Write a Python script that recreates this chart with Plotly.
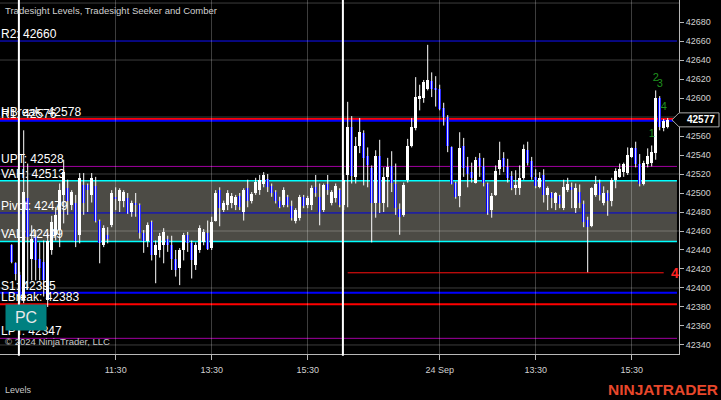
import plotly.graph_objects as go

# ---------------- data ----------------
bar_index = list(range(-2, 163))
opens = [42445, 42426, 42414, 42387, 42495, 42430, 42454, 42431, 42427, 42387,
         42440, 42456, 42461, 42498, 42505, 42487, 42490, 42456, 42508, 42508,
         42498, 42507, 42471, 42445, 42456, 42466, 42496, 42492, 42492, 42495,
         42480, 42490, 42487, 42458, 42450, 42469, 42435, 42440, 42445, 42452,
         42445, 42431, 42421, 42440, 42456, 42447, 42424, 42440, 42448, 42458,
         42442, 42471, 42503, 42482, 42487, 42489, 42487, 42497, 42480, 42505,
         42492, 42500, 42503, 42510, 42515, 42507, 42501, 42492, 42487, 42496,
         42486, 42471, 42474, 42496, 42487, 42487, 42506, 42496, 42482, 42510,
         42489, 42495, 42503, 42487, 42519, 42570, 42517, 42550, 42563, 42539,
         42526, 42489, 42539, 42490, 42517, 42528, 42510, 42483, 42477, 42514,
         42549, 42568, 42599, 42600, 42610, 42618, 42611, 42609, 42589, 42580,
         42548, 42511, 42497, 42549, 42527, 42522, 42511, 42537, 42528, 42510,
         42482, 42498, 42525, 42537, 42527, 42518, 42505, 42505, 42516, 42545,
         42534, 42517, 42506, 42519, 42498, 42500, 42490, 42497, 42484, 42503,
         42506, 42484, 42501, 42488, 42472, 42465, 42498, 42511, 42490, 42500,
         42492, 42514, 42517, 42522, 42521, 42538, 42547, 42531, 42509, 42531,
         42532, 42542, 42600, 42568, 42569]
highs = [42446, 42427, 42417, 42566, 42531, 42466, 42461, 42448, 42450, 42458,
         42476, 42485, 42510, 42535, 42514, 42503, 42498, 42521, 42521, 42510,
         42521, 42517, 42472, 42466, 42464, 42503, 42506, 42505, 42503, 42500,
         42492, 42500, 42489, 42461, 42469, 42471, 42450, 42458, 42463, 42455,
         42455, 42440, 42442, 42458, 42459, 42450, 42448, 42466, 42462, 42471,
         42475, 42503, 42506, 42492, 42503, 42500, 42498, 42500, 42505, 42514,
         42501, 42516, 42519, 42522, 42520, 42510, 42503, 42496, 42506, 42498,
         42492, 42484, 42498, 42498, 42497, 42508, 42519, 42510, 42510, 42519,
         42503, 42510, 42505, 42519, 42596, 42581, 42559, 42579, 42566, 42548,
         42529, 42545, 42556, 42527, 42537, 42544, 42531, 42489, 42511, 42557,
         42579, 42622, 42614, 42619, 42656, 42627, 42623, 42614, 42595, 42582,
         42549, 42512, 42564, 42558, 42538, 42532, 42538, 42542, 42537, 42511,
         42500, 42529, 42554, 42543, 42536, 42523, 42524, 42529, 42551, 42554,
         42538, 42525, 42522, 42525, 42507, 42501, 42501, 42498, 42514, 42516,
         42511, 42510, 42509, 42492, 42475, 42506, 42518, 42514, 42507, 42503,
         42516, 42526, 42531, 42532, 42548, 42548, 42554, 42541, 42534, 42547,
         42550, 42608, 42602, 42578, 42579]
lows = [42426, 42408, 42384, 42384, 42398, 42408, 42408, 42408, 42391, 42380,
        42435, 42450, 42443, 42468, 42477, 42482, 42443, 42447, 42477, 42480,
        42490, 42469, 42426, 42443, 42447, 42464, 42482, 42480, 42485, 42478,
        42475, 42475, 42452, 42437, 42443, 42429, 42405, 42432, 42426, 42438,
        42419, 42412, 42403, 42429, 42438, 42410, 42419, 42437, 42445, 42440,
        42440, 42470, 42465, 42480, 42482, 42484, 42482, 42482, 42471, 42485,
        42489, 42498, 42498, 42506, 42501, 42496, 42489, 42484, 42485, 42485,
        42471, 42468, 42471, 42484, 42484, 42482, 42496, 42466, 42480, 42498,
        42487, 42490, 42485, 42482, 42485, 42510, 42510, 42542, 42508, 42506,
        42448, 42474, 42479, 42480, 42485, 42501, 42477, 42456, 42475, 42511,
        42548, 42566, 42587, 42595, 42608, 42601, 42591, 42587, 42571, 42543,
        42509, 42494, 42485, 42517, 42506, 42511, 42510, 42517, 42507, 42477,
        42474, 42497, 42519, 42522, 42511, 42503, 42498, 42498, 42514, 42529,
        42514, 42505, 42505, 42490, 42482, 42484, 42482, 42484, 42482, 42501,
        42484, 42479, 42484, 42464, 42416, 42464, 42496, 42492, 42487, 42476,
        42486, 42505, 42516, 42517, 42519, 42537, 42527, 42507, 42508, 42527,
        42528, 42535, 42566, 42565, 42568]
closes = [42427, 42415, 42387, 42501, 42454, 42452, 42429, 42421, 42408, 42450,
          42469, 42477, 42503, 42522, 42492, 42501, 42450, 42516, 42489, 42503,
          42516, 42471, 42447, 42463, 42452, 42500, 42494, 42503, 42501, 42479,
          42489, 42487, 42458, 42450, 42466, 42435, 42445, 42455, 42459, 42445,
          42431, 42419, 42440, 42456, 42447, 42429, 42445, 42463, 42459, 42441,
          42469, 42500, 42484, 42489, 42500, 42497, 42496, 42485, 42503, 42492,
          42499, 42512, 42514, 42519, 42506, 42500, 42492, 42485, 42503, 42487,
          42474, 42482, 42496, 42486, 42495, 42505, 42500, 42480, 42508, 42503,
          42501, 42507, 42487, 42514, 42569, 42518, 42550, 42564, 42537, 42530,
          42489, 42539, 42490, 42517, 42527, 42511, 42484, 42475, 42508, 42549,
          42569, 42601, 42602, 42617, 42619, 42610, 42609, 42588, 42580, 42549,
          42510, 42496, 42547, 42526, 42520, 42516, 42535, 42528, 42511, 42479,
          42497, 42523, 42535, 42527, 42516, 42505, 42508, 42516, 42546, 42532,
          42517, 42507, 42516, 42498, 42505, 42495, 42500, 42488, 42506, 42510,
          42503, 42505, 42490, 42469, 42464, 42505, 42510, 42498, 42500, 42492,
          42514, 42523, 42525, 42531, 42540, 42547, 42531, 42509, 42532, 42539,
          42543, 42600, 42569, 42576, 42577]

time_tick_index = [24, 48, 72, 105, 129, 153]
time_tick_text = ["11:30", "13:30", "15:30", "24 Sep", "13:30", "15:30"]
session_start_index = [0, 81]

price_ticks = [42340, 42360, 42380, 42400, 42420, 42440, 42460, 42480, 42500,
               42520, 42540, 42560, 42580, 42600, 42620, 42640, 42660, 42680]
price_grid = [42340, 42400, 42460, 42520, 42580, 42640, 42700]

level_names = ["R2", "HBreak", "R1", "UPT", "VAH", "Pivot", "VAL", "S1", "LBreak", "LPT"]
level_values = [42660, 42578, 42576, 42528, 42513, 42479, 42449, 42395, 42383, 42347]
level_colors = ["#1010ff", "#ff0000", "#0000ff", "#a000a0", "#00ffff", "#0000e0",
                "#00ffff", "#0000ff", "#ff0000", "#a000a0"]
level_widths = [1, 2, 2, 1, 1.5, 1, 1.5, 2, 2, 1]

seeker_level = 42416
seeker_start = 82
seeker_end = 161
seeker_label = "4"

comber_index = [158, 159, 160, 161]
comber_price = [42562, 42621, 42615, 42590]
comber_text = ["1", "2", "3", "4"]

last_price = closes[-1]

# ---------------- figure ----------------
fig = go.Figure()

wx, wy = [], []
for i, h, l in zip(bar_index, highs, lows):
    wx += [i, i, None]
    wy += [l, h, None]
fig.add_trace(go.Scatter(x=wx, y=wy, mode="lines", line=dict(color="#ffffff", width=1),
                         hoverinfo="skip", showlegend=False))

body_base = [min(o, c) for o, c in zip(opens, closes)]
body_len = [max(abs(c - o), 0.8) for o, c in zip(opens, closes)]
body_col = ["#ffffff" if c >= o else "#0000ff" for o, c in zip(opens, closes)]
fig.add_trace(go.Bar(x=bar_index, y=body_len, base=body_base, width=0.62,
                     marker=dict(color=body_col, line=dict(width=0)),
                     hoverinfo="skip", showlegend=False))

fig.add_trace(go.Scatter(x=comber_index, y=comber_price, mode="text", text=comber_text,
                         textfont=dict(color="#1f8f1f", size=11, family="Liberation Sans, Arial"),
                         hoverinfo="skip", showlegend=False))

shapes = []
vah = level_values[level_names.index("VAH")]
val = level_values[level_names.index("VAL")]
shapes.append(dict(type="rect", xref="paper", x0=0, x1=0.997, yref="y", y0=val, y1=vah,
                   fillcolor="#4c4b45", line=dict(width=0), layer="below"))
for g in price_grid:
    shapes.append(dict(type="line", xref="paper", x0=0, x1=1, yref="y", y0=g, y1=g,
                       line=dict(color="rgba(255,255,255,0.24)", width=1), layer="between"))
for v, c, w in zip(level_values, level_colors, level_widths):
    shapes.append(dict(type="line", xref="paper", x0=0, x1=0.997, yref="y", y0=v, y1=v,
                       line=dict(color=c, width=w), layer="between"))
shapes.append(dict(type="line", xref="x", x0=seeker_start, x1=seeker_end, yref="y",
                   y0=seeker_level, y1=seeker_level, line=dict(color="#ff1010", width=1)))
for s in session_start_index:
    shapes.append(dict(type="line", xref="x", x0=s - 0.2, x1=s - 0.2, yref="paper", y0=-0.005, y1=1,
                       line=dict(color="#ffffff", width=2), layer="above"))
# current price marker
shapes.append(dict(type="path", xref="paper", xsizemode="pixel", xanchor=1,
                   yref="y", ysizemode="pixel", yanchor=last_price,
                   path="M -7,0 L 0,7 L 40,7 L 40,-7 L 0,-7 Z",
                   fillcolor="#000000", line=dict(color="#a8a8a8", width=1), layer="above"))

ann = []
font_lbl = "Liberation Sans, Arial"
for n, v in zip(level_names, level_values):
    ann.append(dict(xref="paper", x=0, xanchor="left", xshift=-1, yref="y", y=v,
                    yanchor="bottom", yshift=-2, text=f"{n}: {v}", showarrow=False,
                    font=dict(color="#ffffff", size=12, family=font_lbl)))
ann.append(dict(xref="paper", x=0, xanchor="left", xshift=3, yref="paper", y=1, yanchor="top",
                yshift=-3, text="Tradesight Levels, Tradesight Seeker and Comber", showarrow=False,
                font=dict(color="#d0d0d0", size=9.5, family=font_lbl)))
ann.append(dict(xref="paper", x=0, xanchor="left", xshift=3, yref="paper", y=0, yanchor="middle",
                yshift=13, text="© 2024 NinjaTrader, LLC", showarrow=False,
                font=dict(color="#c8c8c8", size=9.5, family=font_lbl)))
ann.append(dict(xref="paper", x=0, xanchor="left", xshift=5, yref="paper", y=0, yanchor="bottom",
                yshift=23, text="PC", showarrow=False, width=40, height=25, bgcolor="#008080",
                borderpad=0, font=dict(color="#e8e8e8", size=16, family=font_lbl)))
ann.append(dict(xref="paper", x=0, xanchor="left", xshift=3, yref="paper", y=0, yanchor="middle",
                yshift=-36, text="Levels", showarrow=False,
                font=dict(color="#c8c8c8", size=9, family=font_lbl)))
ann.append(dict(xref="paper", x=1, xanchor="right", xshift=41, yref="paper", y=0, yanchor="middle",
                yshift=-35, text="<b>NINJATRADER</b>", showarrow=False,
                font=dict(color="#e8472b", size=15.5, family=font_lbl)))
ann.append(dict(xref="x", x=seeker_end + 1.3, xanchor="left", yref="y", y=seeker_level,
                yanchor="middle", text=f"<b>{seeker_label}</b>", showarrow=False,
                font=dict(color="#ff2020", size=14, family=font_lbl)))
ann.append(dict(xref="paper", x=1, xanchor="left", xshift=6, yref="y", y=last_price,
                yanchor="middle", text=f"<b>{last_price}</b>", showarrow=False,
                font=dict(color="#ffffff", size=10, family=font_lbl)))

fig.update_layout(
    template="none",
    width=721, height=400,
    margin=dict(l=0, r=42, t=0, b=46),
    paper_bgcolor="#000000", plot_bgcolor="#000000",
    showlegend=False, bargap=0, hovermode=False,
    shapes=shapes, annotations=ann,
    xaxis=dict(range=[-4.925, 164.825], tickmode="array", tickvals=time_tick_index,
               ticktext=time_tick_text, showgrid=True, gridcolor="rgba(255,255,255,0.24)",
               gridwidth=1, zeroline=False, showline=True, linecolor="#b8b8b8", linewidth=1,
               ticks="outside", ticklen=5, tickcolor="#b8b8b8", ticklabelstandoff=2,
               tickfont=dict(color="#d0d0d0", size=9, family=font_lbl), automargin=False),
    yaxis=dict(side="right", range=[42330.5, 42703.2], tickmode="array", tickvals=price_ticks,
               ticktext=[str(p) for p in price_ticks], showgrid=False, zeroline=False,
               showline=True, linecolor="#b8b8b8", linewidth=1, ticks="outside", ticklen=4,
               tickcolor="#b8b8b8", tickfont=dict(color="#d0d0d0", size=9, family=font_lbl),
               automargin=False),
)

fig.write_html("out.html", config={"displayModeBar": False},
               post_script="document.body.style.margin='0';document.body.style.background='#000';")
